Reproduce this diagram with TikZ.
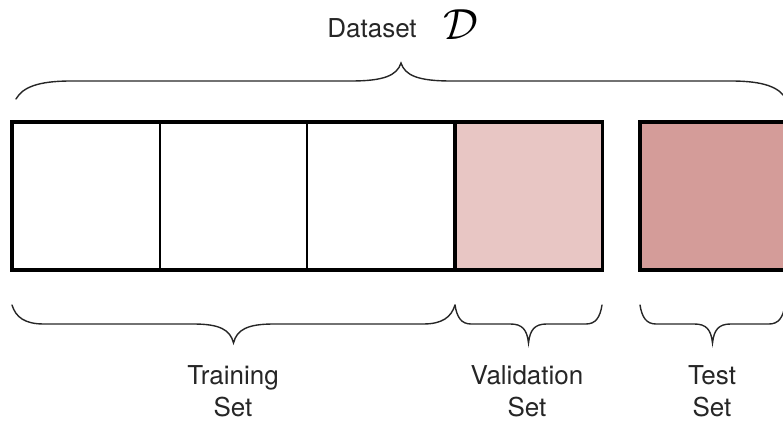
\documentclass[tikz,border=0pt]{standalone}
\usepackage{fontspec}
\setmainfont{TeX Gyre Heros}
\definecolor{valfill}{HTML}{E8C6C4}
\definecolor{testfill}{HTML}{D49C99}
\newcommand{\mybrace}[7]{% x1, x2, yend, yline, ytip, curl width, tip half width
  \pgfmathsetmacro\bxm{(#1+#2)/2}
  \draw[bracestyle] (#1,#3)
    .. controls ({#1+0.12*#6},{#3+0.65*(#4-#3)}) and ({#1+0.4*#6},#4) .. ({#1+#6},#4)
    -- ({\bxm-#7},#4)
    .. controls ({\bxm-0.35*#7},#4) and ({\bxm-0.08*#7},{#4+0.3*(#5-#4)}) .. (\bxm,#5)
    .. controls ({\bxm+0.08*#7},{#4+0.3*(#5-#4)}) and ({\bxm+0.35*#7},#4) .. ({\bxm+#7},#4)
    -- ({#2-#6},#4)
    .. controls ({#2-0.4*#6},#4) and ({#2-0.12*#6},{#3+0.65*(#4-#3)}) .. (#2,#3);
}
\begin{document}
\begin{tikzpicture}[x=1pt,y=-1pt,
  bracestyle/.style={draw=black!85, line width=1.4pt, line cap=round},
  cell/.style={draw=black, line width=1.3pt, anchor=north west, inner sep=0pt, outer sep=0pt,
    minimum width=147.5pt, minimum height=148pt},
  lbl/.style={font=\fontsize{26}{32}\selectfont, align=center, text=black!85}]
\useasboundingbox (0,0) rectangle (783,422);
\clip (0,0) rectangle (783,422);
% cells
\node[cell] (t1) at (12,122) {};
\node[cell] (t2) at (160,122) {};
\node[cell] (t3) at (307,122) {};
\node[cell, fill=valfill, line width=3.5pt] (val) at (455,122) {};
\draw[line width=3.5pt] (t1.north west) rectangle (val.south east);
\node[cell, fill=testfill, line width=3.5pt, minimum width=160pt] (test) at (640,122) {};
% braces
\mybrace{16}{786}{99}{81}{63}{55}{50}
\mybrace{12}{455}{305}{324}{343}{32}{40}
\mybrace{455}{602}{305}{324}{343}{16}{18}
\mybrace{640}{785}{305}{324}{343}{16}{18}
% labels
\node[lbl, anchor=base] (dtitle) at (372,38) {Dataset};
\node[anchor=base, inner sep=0pt, scale=1.75, font=\fontsize{24}{24}\selectfont] (dsym) at (461,40) {$\mathcal{D}$};
\node[lbl] (trl) at (233,391) {Training\\Set};
\node[lbl] (vall) at (527,391) {Validation\\Set};
\node[lbl] (testl) at (712,391) {Test\\Set};
\end{tikzpicture}
\end{document}
